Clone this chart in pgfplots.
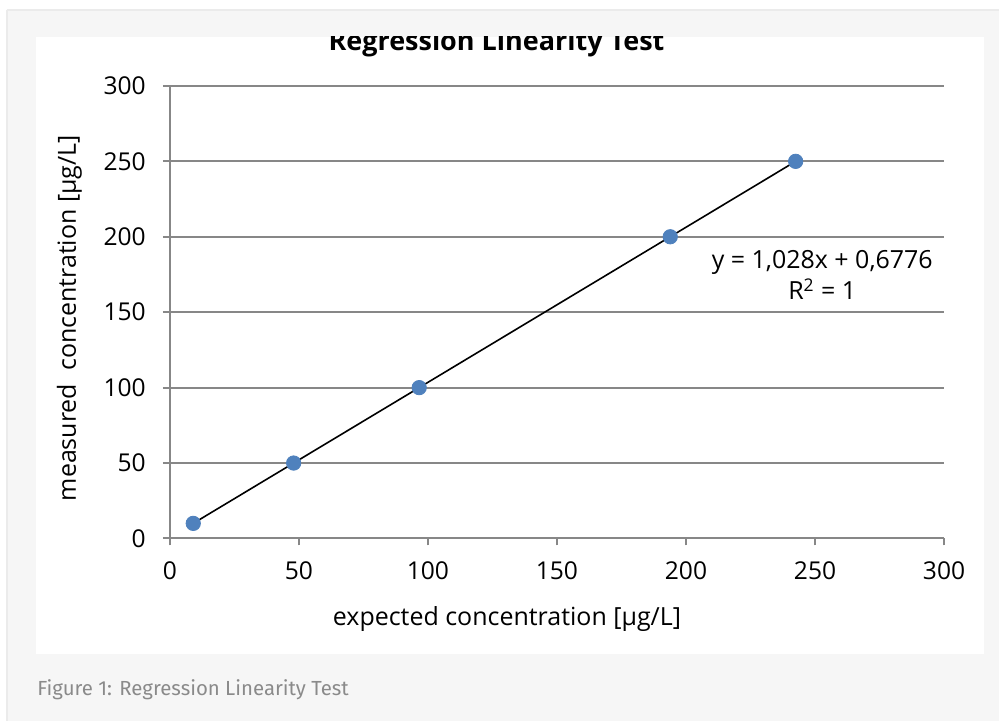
\documentclass[border=0pt]{standalone}
\usepackage{fontspec}
\setmainfont{Open Sans}
\newfontfamily\capfont{Fira Sans}
\usepackage{pgfplots}
\pgfplotsset{compat=1.18}
\definecolor{bggray}{HTML}{F6F6F6}
\definecolor{edgegray}{HTML}{EBEBEB}
\definecolor{gridgray}{HTML}{878787}
\definecolor{ptblue}{HTML}{4F81BD}
\definecolor{capgray}{HTML}{8A8A8A}
\begin{document}
\begin{tikzpicture}[x=0.5pt,y=-0.5pt]
\fill[white] (0,0) rectangle (1000,722);
\fill[bggray] (7,11) rectangle (1000,722);
\draw[edgegray,line width=1pt] (7,10.5) -- (1000,10.5);
\draw[edgegray,line width=1pt] (7.5,10.5) -- (7.5,722);
\fill[white] (36,37) rectangle (985,655);
\begin{scope}
\clip (36,37) rectangle (985,655);
\node[anchor=base,font=\fontsize{13.5}{15}\selectfont\bfseries] at (497,51) {Regression Linearity Test};
\end{scope}
\begin{axis}[
  at={(85pt,-269.5pt)}, anchor=south west,
  scale only axis, width=387.5pt, height=226.5pt,
  xmin=0, xmax=300, ymin=0, ymax=300,
  xtick={0,50,...,300}, ytick={0,50,...,300},
  axis x line*=bottom, axis y line*=left,
  axis line style={gridgray,line width=1pt,-},
  tick style={gridgray,line width=1pt},
  tick align=outside, major tick length=3.5pt,
  ymajorgrids, grid style={gridgray,line width=1pt},
  tick label style={font=\fontsize{12.3}{14}\selectfont},
  /pgf/number format/assume math mode=true,
  xticklabel style={yshift=-4.5pt},
  yticklabel style={xshift=-5pt},
  xlabel={expected concentration [µg/L]},
  ylabel={measured\ \ concentration [µg/L]},
  label style={font=\fontsize{12.5}{14}\selectfont},
  xlabel style={yshift=-6.5pt,xshift=-25pt},
  ylabel style={yshift=4pt,xshift=-3pt},
  clip=false,
]
\addplot[black,line width=0.8pt] coordinates {(9.07,10) (242.5,250)};
\addplot[only marks,mark=*,mark size=3.6pt,ptblue,mark options={draw=ptblue,fill=ptblue}] coordinates {
(9.07,10) (47.98,50) (96.62,100) (193.9,200) (242.5,250)};
\node[align=center,font=\fontsize{12.5}{15.5}\selectfont] at (axis cs:252.8,174.5) {y = 1,028x + 0,6776\\R\textsuperscript{2} = 1};
\end{axis}
\node[anchor=base west,text=capgray,font=\capfont\fontsize{10.2}{12}\selectfont,inner sep=0pt] at (37,696) {Figure 1: Regression Linearity Test};
\end{tikzpicture}
\end{document}
